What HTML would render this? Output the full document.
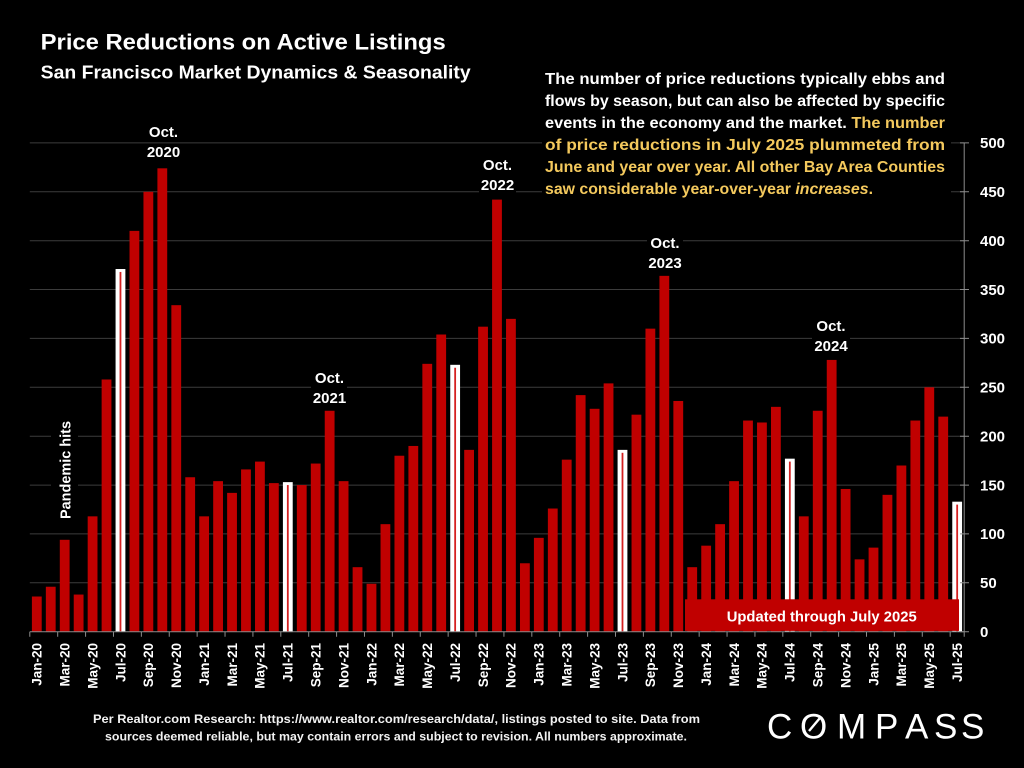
<!DOCTYPE html>
<html><head><meta charset="utf-8"><style>
html,body{margin:0;padding:0;background:#000;}
svg{display:block;}
text{font-family:"Liberation Sans",Arial,sans-serif;font-weight:bold;}
</style></head><body>
<svg width="1024" height="768" viewBox="0 0 1024 768" xmlns="http://www.w3.org/2000/svg">
<rect width="1024" height="768" fill="#000"/>
<!-- gridlines -->
<g stroke="#3c3c3c" stroke-width="1">
<line x1="29.8" x2="964" y1="582.8" y2="582.8"/>
<line x1="29.8" x2="964" y1="533.9" y2="533.9"/>
<line x1="29.8" x2="964" y1="485.1" y2="485.1"/>
<line x1="29.8" x2="964" y1="436.2" y2="436.2"/>
<line x1="29.8" x2="964" y1="387.3" y2="387.3"/>
<line x1="29.8" x2="964" y1="338.4" y2="338.4"/>
<line x1="29.8" x2="964" y1="289.5" y2="289.5"/>
<line x1="29.8" x2="964" y1="240.7" y2="240.7"/>
<line x1="29.8" x2="964" y1="191.8" y2="191.8"/>
<line x1="29.8" x2="964" y1="142.9" y2="142.9"/>
</g>
<!-- label background boxes -->
<g fill="#000">
<rect x="542" y="64" width="409" height="136"/>
<rect x="51" y="416" width="27" height="108"/>
<rect x="311" y="370" width="36" height="37"/>
<rect x="479" y="155" width="37" height="38"/>
<rect x="647" y="234" width="36" height="37"/>
<rect x="812" y="317" width="38" height="37"/>
</g>
<!-- bars -->
<g transform="translate(31.9,631.7) scale(13.945,-0.9776)" fill="#c00000">
<rect x="0" width=".703" height="36"/>
<rect x="1" width=".703" height="46"/>
<rect x="2" width=".703" height="94"/>
<rect x="3" width=".703" height="38"/>
<rect x="4" width=".703" height="118"/>
<rect x="5" width=".703" height="258"/>
<rect x="6" width=".703" height="371" fill="#fff"/>
<rect x="6.287" width=".129" height="368" fill="#d42020"/>
<rect x="7" width=".703" height="410"/>
<rect x="8" width=".703" height="450"/>
<rect x="9" width=".703" height="474"/>
<rect x="10" width=".703" height="334"/>
<rect x="11" width=".703" height="158"/>
<rect x="12" width=".703" height="118"/>
<rect x="13" width=".703" height="154"/>
<rect x="14" width=".703" height="142"/>
<rect x="15" width=".703" height="166"/>
<rect x="16" width=".703" height="174"/>
<rect x="17" width=".703" height="152"/>
<rect x="18" width=".703" height="153" fill="#fff"/>
<rect x="18.287" width=".129" height="150" fill="#d42020"/>
<rect x="19" width=".703" height="150"/>
<rect x="20" width=".703" height="172"/>
<rect x="21" width=".703" height="226"/>
<rect x="22" width=".703" height="154"/>
<rect x="23" width=".703" height="66"/>
<rect x="24" width=".703" height="49"/>
<rect x="25" width=".703" height="110"/>
<rect x="26" width=".703" height="180"/>
<rect x="27" width=".703" height="190"/>
<rect x="28" width=".703" height="274"/>
<rect x="29" width=".703" height="304"/>
<rect x="30" width=".703" height="273" fill="#fff"/>
<rect x="30.287" width=".129" height="270" fill="#d42020"/>
<rect x="31" width=".703" height="186"/>
<rect x="32" width=".703" height="312"/>
<rect x="33" width=".703" height="442"/>
<rect x="34" width=".703" height="320"/>
<rect x="35" width=".703" height="70"/>
<rect x="36" width=".703" height="96"/>
<rect x="37" width=".703" height="126"/>
<rect x="38" width=".703" height="176"/>
<rect x="39" width=".703" height="242"/>
<rect x="40" width=".703" height="228"/>
<rect x="41" width=".703" height="254"/>
<rect x="42" width=".703" height="186" fill="#fff"/>
<rect x="42.287" width=".129" height="183" fill="#d42020"/>
<rect x="43" width=".703" height="222"/>
<rect x="44" width=".703" height="310"/>
<rect x="45" width=".703" height="364"/>
<rect x="46" width=".703" height="236"/>
<rect x="47" width=".703" height="66"/>
<rect x="48" width=".703" height="88"/>
<rect x="49" width=".703" height="110"/>
<rect x="50" width=".703" height="154"/>
<rect x="51" width=".703" height="216"/>
<rect x="52" width=".703" height="214"/>
<rect x="53" width=".703" height="230"/>
<rect x="54" width=".703" height="177" fill="#fff"/>
<rect x="54.287" width=".129" height="174" fill="#d42020"/>
<rect x="55" width=".703" height="118"/>
<rect x="56" width=".703" height="226"/>
<rect x="57" width=".703" height="278"/>
<rect x="58" width=".703" height="146"/>
<rect x="59" width=".703" height="74"/>
<rect x="60" width=".703" height="86"/>
<rect x="61" width=".703" height="140"/>
<rect x="62" width=".703" height="170"/>
<rect x="63" width=".703" height="216"/>
<rect x="64" width=".703" height="250"/>
<rect x="65" width=".703" height="220"/>
<rect x="66" width=".703" height="133" fill="#fff"/>
<rect x="66.287" width=".129" height="130" fill="#d42020"/>
</g>
<!-- axes -->
<g stroke="#8c8c8c" stroke-width="1" fill="none">
<line x1="29.8" x2="964.2" y1="631.7" y2="631.7"/>
<line x1="964.2" x2="964.2" y1="142.9" y2="631.7"/>
<path d="M29.8 631.7v5M57.69 631.7v5M85.58 631.7v5M113.47 631.7v5M141.36 631.7v5M169.25 631.7v5M197.14 631.7v5M225.03 631.7v5M252.92 631.7v5M280.81 631.7v5M308.7 631.7v5M336.59 631.7v5M364.48 631.7v5M392.37 631.7v5M420.26 631.7v5M448.15 631.7v5M476.04 631.7v5M503.93 631.7v5M531.82 631.7v5M559.71 631.7v5M587.6 631.7v5M615.49 631.7v5M643.38 631.7v5M671.27 631.7v5M699.16 631.7v5M727.05 631.7v5M754.94 631.7v5M782.83 631.7v5M810.72 631.7v5M838.61 631.7v5M866.5 631.7v5M894.39 631.7v5M922.28 631.7v5M950.17 631.7v5M964.2 631.7v5"/>
<path d="M960 631.7h9M960 582.8h9M960 533.9h9M960 485.1h9M960 436.2h9M960 387.3h9M960 338.4h9M960 289.5h9M960 240.7h9M960 191.8h9M960 142.9h9"/>
</g>
<!-- updated box -->
<rect x="685" y="599.3" width="274" height="31.6" fill="#c00000"/>
<text x="726.7" y="621.7" font-size="15" fill="#fff" textLength="190" lengthAdjust="spacingAndGlyphs">Updated through July 2025</text>
<!-- y labels -->
<g font-size="15" fill="#fff">
<text x="980" y="637">0</text>
<text x="980" y="588.1">50</text>
<text x="980" y="539.2">100</text>
<text x="980" y="490.4">150</text>
<text x="980" y="441.5">200</text>
<text x="980" y="392.6">250</text>
<text x="980" y="343.7">300</text>
<text x="980" y="294.8">350</text>
<text x="980" y="246">400</text>
<text x="980" y="197.1">450</text>
<text x="980" y="148.2">500</text>
</g>
<!-- x labels -->
<g font-size="13.5" fill="#fff" text-anchor="end">
<text transform="translate(41.6,643) rotate(-90)">Jan-20</text>
<text transform="translate(69.49,643) rotate(-90)">Mar-20</text>
<text transform="translate(97.38,643) rotate(-90)">May-20</text>
<text transform="translate(125.27,643) rotate(-90)">Jul-20</text>
<text transform="translate(153.16,643) rotate(-90)">Sep-20</text>
<text transform="translate(181.05,643) rotate(-90)">Nov-20</text>
<text transform="translate(208.94,643) rotate(-90)">Jan-21</text>
<text transform="translate(236.83,643) rotate(-90)">Mar-21</text>
<text transform="translate(264.72,643) rotate(-90)">May-21</text>
<text transform="translate(292.61,643) rotate(-90)">Jul-21</text>
<text transform="translate(320.5,643) rotate(-90)">Sep-21</text>
<text transform="translate(348.39,643) rotate(-90)">Nov-21</text>
<text transform="translate(376.28,643) rotate(-90)">Jan-22</text>
<text transform="translate(404.17,643) rotate(-90)">Mar-22</text>
<text transform="translate(432.06,643) rotate(-90)">May-22</text>
<text transform="translate(459.95,643) rotate(-90)">Jul-22</text>
<text transform="translate(487.84,643) rotate(-90)">Sep-22</text>
<text transform="translate(515.73,643) rotate(-90)">Nov-22</text>
<text transform="translate(543.62,643) rotate(-90)">Jan-23</text>
<text transform="translate(571.51,643) rotate(-90)">Mar-23</text>
<text transform="translate(599.4,643) rotate(-90)">May-23</text>
<text transform="translate(627.29,643) rotate(-90)">Jul-23</text>
<text transform="translate(655.18,643) rotate(-90)">Sep-23</text>
<text transform="translate(683.07,643) rotate(-90)">Nov-23</text>
<text transform="translate(710.96,643) rotate(-90)">Jan-24</text>
<text transform="translate(738.85,643) rotate(-90)">Mar-24</text>
<text transform="translate(766.74,643) rotate(-90)">May-24</text>
<text transform="translate(794.63,643) rotate(-90)">Jul-24</text>
<text transform="translate(822.52,643) rotate(-90)">Sep-24</text>
<text transform="translate(850.41,643) rotate(-90)">Nov-24</text>
<text transform="translate(878.3,643) rotate(-90)">Jan-25</text>
<text transform="translate(906.19,643) rotate(-90)">Mar-25</text>
<text transform="translate(934.08,643) rotate(-90)">May-25</text>
<text transform="translate(961.97,643) rotate(-90)">Jul-25</text>
</g>
<!-- annotations -->
<g font-size="15" fill="#fff" text-anchor="middle">
<text x="163.5" y="137">Oct.</text>
<text x="163.5" y="157">2020</text>
<text x="329.5" y="383">Oct.</text>
<text x="329.5" y="403">2021</text>
<text x="497.5" y="170">Oct.</text>
<text x="497.5" y="190">2022</text>
<text x="665" y="248">Oct.</text>
<text x="665" y="268">2023</text>
<text x="831" y="331">Oct.</text>
<text x="831" y="351">2024</text>
<text transform="translate(70.5,470) rotate(-90)" font-size="14.5" textLength="98" lengthAdjust="spacingAndGlyphs">Pandemic hits</text>
</g>
<!-- titles -->
<text x="40.7" y="49.3" font-size="22.5" fill="#fff" textLength="405" lengthAdjust="spacingAndGlyphs">Price Reductions on Active Listings</text>
<text x="40.7" y="78.5" font-size="18.5" fill="#fff" textLength="430" lengthAdjust="spacingAndGlyphs">San Francisco Market Dynamics &amp; Seasonality</text>
<!-- paragraph -->
<g font-size="15.5">
<text x="545" y="84" fill="#fff" textLength="400" lengthAdjust="spacingAndGlyphs">The number of price reductions typically ebbs and</text>
<text x="545" y="106" fill="#fff" textLength="400" lengthAdjust="spacingAndGlyphs">flows by season, but can also be affected by specific</text>
<text x="545" y="128" fill="#fff" textLength="400" lengthAdjust="spacingAndGlyphs">events in the economy and the market. <tspan fill="#f4c95d">The number</tspan></text>
<text x="545" y="150" fill="#f4c95d" textLength="400" lengthAdjust="spacingAndGlyphs">of price reductions in July 2025 plummeted from</text>
<text x="545" y="172" fill="#f4c95d" textLength="400" lengthAdjust="spacingAndGlyphs">June and year over year. All other Bay Area Counties</text>
<text x="545" y="194" fill="#f4c95d" textLength="328" lengthAdjust="spacingAndGlyphs">saw considerable year-over-year <tspan font-style="italic">increases</tspan>.</text>
</g>
<!-- footer -->
<g font-size="12" fill="#f2f2f2" text-anchor="middle">
<text x="396.5" y="723" textLength="607" lengthAdjust="spacingAndGlyphs">Per Realtor.com Research:  https://www.realtor.com/research/data/, listings posted to site. Data from</text>
<text x="396" y="740.5" textLength="582" lengthAdjust="spacingAndGlyphs">sources deemed reliable, but may contain errors and subject to revision. All numbers approximate.</text>
</g>
<!-- logo -->
<text x="767 800 837 875 905 934 961" y="738.3" font-size="35" fill="#fff" style="font-weight:normal">COMPASS</text>
<line x1="809" y1="731" x2="819.5" y2="718.5" stroke="#fff" stroke-width="2.4"/>
</svg>
</body></html>
